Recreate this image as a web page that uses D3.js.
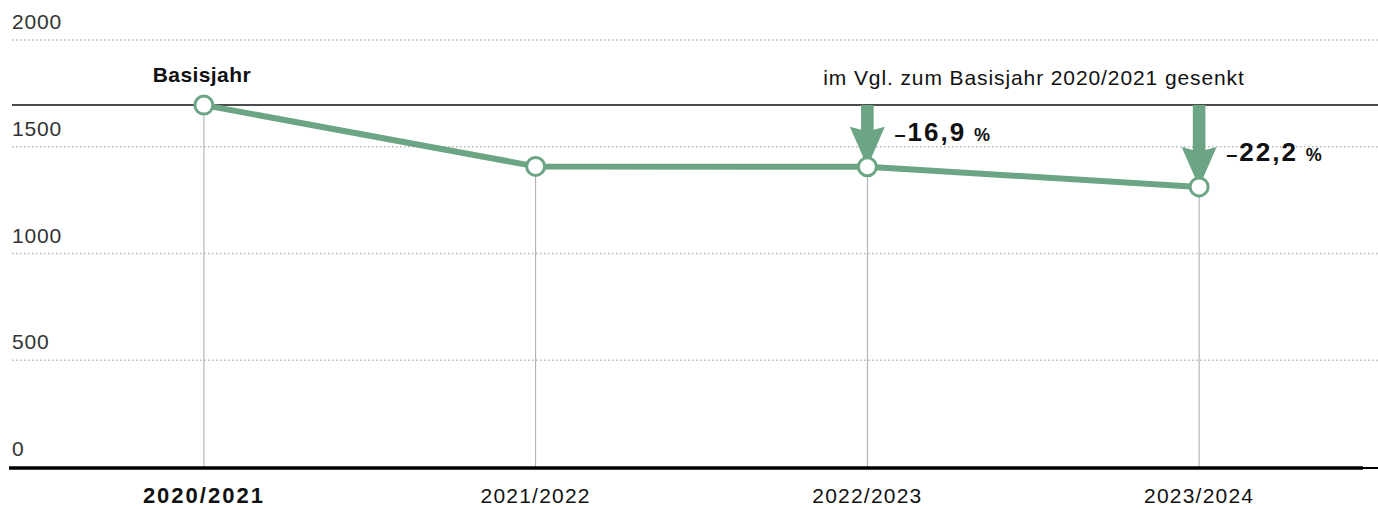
<!DOCTYPE html>
<html>
<head>
<meta charset="utf-8">
<script src="https://cdn.jsdelivr.net/npm/d3@7"></script>
<style>
  body { margin: 0; background: #fff; }
  svg { display: block; font-family: "Liberation Sans", Arial, sans-serif; }
</style>
</head>
<body>
<svg id="chart" width="1378" height="509"></svg>
<script>
// data
const years = ["2020/2021", "2021/2022", "2022/2023", "2023/2024"];
const values = [1695, 1408, 1406, 1312];
const changes = [null, null, "16,9", "22,2"];
const yTicks = [0, 500, 1000, 1500, 2000];
const baseLabel = "Basisjahr";
const noteText = "im Vgl. zum Basisjahr 2020/2021 gesenkt";

const green = "#6ba584";
const width = 1378, height = 509;
const left = 12;

const svg = d3.select("#chart");

const x = d3.scalePoint().domain(years).range([38, 1365]).padding(0.5);
const y = d3.scaleLinear().domain([0, 2000]).range([467, 40]);

// dotted gridlines + labels
const grid = svg.append("g");
grid.selectAll("line")
  .data(yTicks.filter(d => d > 0))
  .join("line")
  .attr("x1", left).attr("x2", width)
  .attr("y1", d => y(d)).attr("y2", d => y(d))
  .attr("stroke", "#b5b5b5")
  .attr("stroke-width", 1.3)
  .attr("stroke-dasharray", "1.5,2.5");

grid.selectAll("text")
  .data(yTicks)
  .join("text")
  .attr("x", left)
  .attr("y", d => y(d) - 11)
  .attr("font-size", 21)
  .attr("letter-spacing", 0.8)
  .attr("fill", "#333")
  .text(d => d);

// vertical drop lines
svg.append("g").selectAll("line")
  .data(years)
  .join("line")
  .attr("x1", d => x(d)).attr("x2", d => x(d))
  .attr("y1", (d, i) => y(values[i])).attr("y2", y(0))
  .attr("stroke", "#aaa")
  .attr("stroke-width", 1);

// base reference line
const base = values[0];
svg.append("line")
  .attr("x1", left).attr("x2", width)
  .attr("y1", y(base)).attr("y2", y(base))
  .attr("stroke", "#111")
  .attr("stroke-width", 1.5);

// zero baseline
svg.append("line")
  .attr("x1", 1363).attr("x2", width)
  .attr("y1", y(0) + 1).attr("y2", y(0) + 1)
  .attr("stroke", "#000")
  .attr("stroke-width", 2);
svg.append("line")
  .attr("x1", 9).attr("x2", 1363)
  .attr("y1", y(0) + 1).attr("y2", y(0) + 1)
  .attr("stroke", "#000")
  .attr("stroke-width", 3.5);

// arrows for the reductions
const r = 9;
const arrows = svg.append("g");
years.forEach((yr, i) => {
  if (!changes[i]) return;
  const cx = x(yr);
  const top = y(base);
  const tip = y(values[i]);
  const headH = 40, headW = 17.5, shaftW = 6.3;
  const path = d3.path();
  path.moveTo(cx - shaftW, top);
  path.lineTo(cx + shaftW, top);
  path.lineTo(cx + shaftW, tip - headH + 3);
  path.lineTo(cx + headW, tip - headH);
  path.lineTo(cx, tip);
  path.lineTo(cx - headW, tip - headH);
  path.lineTo(cx - shaftW, tip - headH + 3);
  path.closePath();
  arrows.append("path").attr("d", path.toString()).attr("fill", green);

  const t = arrows.append("text")
    .attr("x", cx + 27)
    .attr("y", y(values[i]) - 26)
    .attr("font-weight", "bold")
    .attr("fill", "#111");
  t.append("tspan").attr("font-size", 20).text("–");
  t.append("tspan").attr("dx", 2).attr("font-size", 26).attr("letter-spacing", 2).text(changes[i]);
  t.append("tspan").attr("dx", 8).attr("font-size", 18).text("%");
});

// series line
const line = d3.line()
  .x((d, i) => x(years[i]))
  .y(d => y(d));

svg.append("path")
  .datum(values)
  .attr("d", line)
  .attr("fill", "none")
  .attr("stroke", green)
  .attr("stroke-width", 6)
  .attr("stroke-linejoin", "round");

svg.append("g").selectAll("circle")
  .data(values)
  .join("circle")
  .attr("cx", (d, i) => x(years[i]))
  .attr("cy", d => y(d))
  .attr("r", r)
  .attr("fill", "#fff")
  .attr("stroke", green)
  .attr("stroke-width", 3);

// labels
svg.append("text")
  .attr("x", x(years[0]) - 2)
  .attr("y", 82)
  .attr("text-anchor", "middle")
  .attr("font-size", 21)
  .attr("font-weight", "bold")
  .attr("letter-spacing", 0.4)
  .attr("fill", "#111")
  .text(baseLabel);

svg.append("text")
  .attr("x", 1034)
  .attr("y", 85)
  .attr("text-anchor", "middle")
  .attr("font-size", 21)
  .attr("letter-spacing", 0.9)
  .attr("fill", "#111")
  .text(noteText);

// x axis labels
svg.append("g").selectAll("text")
  .data(years)
  .join("text")
  .attr("x", d => x(d))
  .attr("y", 503)
  .attr("text-anchor", "middle")
  .attr("font-size", (d, i) => i === 0 ? 22 : 21)
  .attr("font-weight", (d, i) => i === 0 ? "bold" : "normal")
  .attr("letter-spacing", (d, i) => i === 0 ? 2 : 1.2)
  .attr("fill", "#111")
  .text(d => d);
</script>
</body>
</html>
